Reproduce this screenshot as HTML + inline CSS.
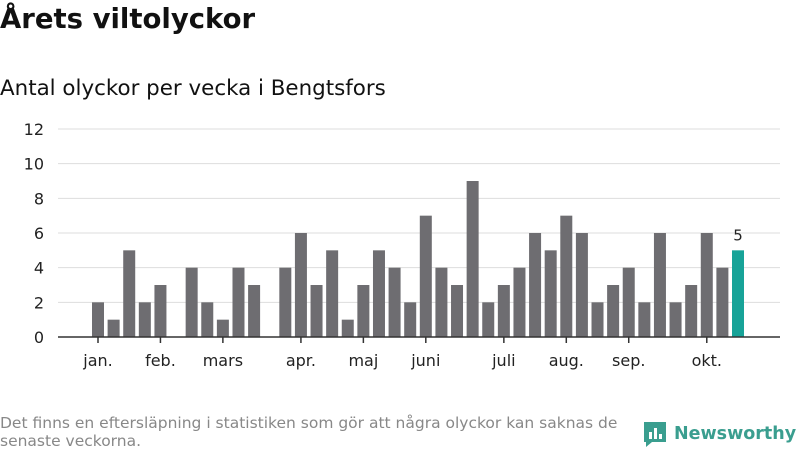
<!DOCTYPE html>
<html><head><meta charset="utf-8"><style>
body{margin:0;background:#fff;width:800px;height:450px;overflow:hidden;font-family:"DejaVu Sans","Liberation Sans",sans-serif;}
h1{position:absolute;left:0;top:3px;margin:0;font-size:27.5px;font-weight:bold;color:#111;}
h2{position:absolute;left:0;top:76px;margin:0;font-size:21.4px;font-weight:normal;color:#111;}
.foot{position:absolute;left:0;top:414px;font-size:15.5px;color:#888;line-height:18px;width:630px;}
.logo{position:absolute;left:642px;top:420px;display:flex;align-items:center;color:#3a9e8f;font-size:17.5px;font-weight:bold;}
svg{position:absolute;left:0;top:0;}
</style></head><body>
<h1>Årets viltolyckor</h1>
<h2>Antal olyckor per vecka i Bengtsfors</h2>
<svg id="chart" width="800" height="450"></svg>
<div class="foot">Det finns en eftersläpning i statistiken som gör att några olyckor kan saknas de senaste veckorna.</div>
<div class="logo"><svg style="position:static;margin-right:6px" width="26" height="28" viewBox="0 0 26 28"><path d="M2 2h22v20H10l-6 5v-5H2z" fill="#3a9e8f"/><rect x="7" y="12" width="3" height="7" fill="#fff"/><rect x="12" y="8" width="3" height="11" fill="#fff"/><rect x="17" y="14" width="3" height="5" fill="#fff"/></svg>Newsworthy</div>
<script>
const values=[2,1,5,2,3,0,4,2,1,4,3,0,4,6,3,5,1,3,5,4,2,7,4,3,9,2,3,4,6,5,7,6,2,3,4,2,6,2,3,6,4,5];
const yTicks=[0,2,4,6,8,10,12];
const monthLabels=["jan.","feb.","mars","apr.","maj","juni","juli","aug.","sep.","okt."];
const monthWeek=[0,4,8,13,17,21,26,30,34,39];
const svg=document.getElementById('chart');
const NS="http://www.w3.org/2000/svg";
const x=i=>98+i*(738-98)/41;
const y=v=>337-v*(337-129)/12;
function mk(t,a){const e=document.createElementNS(NS,t);for(const k in a)e.setAttribute(k,a[k]);svg.appendChild(e);return e;}
yTicks.forEach(t=>{
 if(t>0){const g=mk('line',{x1:58,x2:780,y1:y(t),y2:y(t),stroke:'#ddd','stroke-width':1});
 
 }
 const l=mk('text',{x:44,y:y(t)+6,'text-anchor':'end','font-size':16,fill:'#222','font-family':'DejaVu Sans,sans-serif'});
 l.textContent=t;
 
 
});
values.forEach((v,i)=>{
 const last=i===values.length-1;
 const r=mk('rect',{x:x(i)-6,y:y(v),width:12,height:y(0)-y(v),fill:last?'#17a398':'#6e6d71'});
 
 
 if(last){const t=mk('text',{x:x(i),y:y(v)-10,'text-anchor':'middle','font-size':15,fill:'#222','font-family':'DejaVu Sans,sans-serif'});t.textContent=v;
 
 }
});
const ax=mk('line',{x1:58,x2:780,y1:337,y2:337,stroke:'#333','stroke-width':1.5});


monthLabels.forEach((m,k)=>{
 const xx=x(monthWeek[k]);
 const tk=mk('line',{x1:xx,x2:xx,y1:337,y2:343,stroke:'#333','stroke-width':1.5});
 
 
 const t=mk('text',{x:xx,y:366,'text-anchor':'middle','font-size':16,fill:'#222','font-family':'DejaVu Sans,sans-serif'});
 t.textContent=m;
 
 
});
</script>
</body></html>
